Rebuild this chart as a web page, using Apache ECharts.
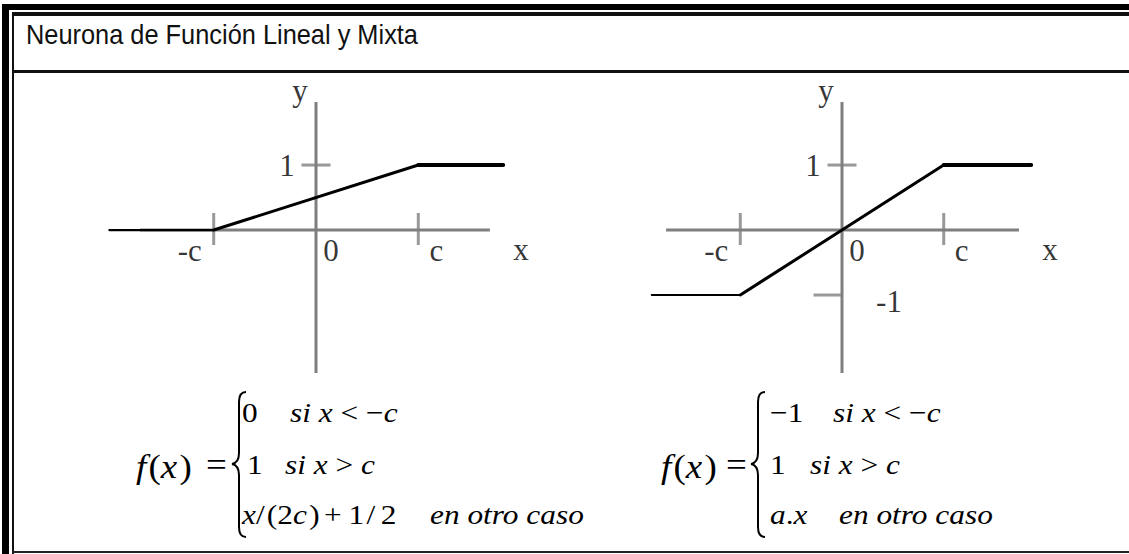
<!DOCTYPE html>
<html>
<head>
<meta charset="utf-8">
<title>Neurona de Función Lineal y Mixta</title>
<script src="https://cdn.jsdelivr.net/npm/echarts@6/dist/echarts.min.js"></script>
<style>
  html, body { margin: 0; padding: 0; background: #fff; }
  #chart { width: 1129px; height: 554px; }
</style>
</head>
<body>
<div id="chart"></div>
<script>
// Breakpoints of the two transfer functions (x measured in units of c)
const linealX = [-2.02, -1, 1, 1.83];
const linealY = [0, 0, 1, 1];
const mixtaX = [-1.87, -1, 1, 1.86];
const mixtaY = [-1, -1, 1, 1];

// Drawn extent of the coordinate axes
const linealAxisX = [-1.72, 1.70];
const mixtaAxisX = [-1.73, 1.74];
const axisY = [-2.2, 1.97];

// Tick marks drawn across the axes
const linealXTicks = [-1, 1];
const linealYTicks = [1];
const mixtaXTicks = [-1, 1];
const mixtaYTicks = [1, -1];

// Tick labels and the axis values they sit at
const linealLabelText = ['-c', '0', 'c', '1'];
const linealLabelX = [-1, 0, 1, 0];
const linealLabelY = [0, 0, 0, 1];
const mixtaLabelText = ['-c', '0', 'c', '1', '-1'];
const mixtaLabelX = [-1, 0, 1, 0, 0];
const mixtaLabelY = [0, 0, 0, 1, -1];
const axisNames = ['x', 'y'];

// Value window of each plotting area
const linealWindowX = [-2.1, 1.9];
const mixtaWindowX = [-1.95, 1.95];
const windowY = [-2.2, 1.97];

// ---- styles -------------------------------------------------------------
const AXIS_GRAY = '#7f7f7f';
const SERIF = '"Liberation Serif", "Times New Roman", serif';
const SANS = '"Liberation Sans", Arial, sans-serif';
const LABEL_SIZE = 31;
const segmentWidths = [2.2, 3, 4];
const labelOffsets = { '-c': [-24, 20], '0': [15, 20], 'c': [18, 20], '1': [-29, 0], '-1': [47, 6],
                       'x': [31, 19], 'y': [-16, -12] };
const yTickStyle = { '1': { size: [29, 3], offset: [0, 0] }, '-1': { size: [29, 3], offset: [-14, 0] } };

// pixel placement of each panel: origin column and pixels per unit of c
const panelFrames = [
  { originX: 316, unitX: 102.3 },
  { originX: 842, unitX: 101.7 }
];
const PLOT_TOP = 102, PLOT_HEIGHT = 271;

const panels = [
  { curveX: linealX, curveY: linealY, axisX: linealAxisX, xTicks: linealXTicks, yTicks: linealYTicks,
    labelText: linealLabelText, labelX: linealLabelX, labelY: linealLabelY, windowX: linealWindowX },
  { curveX: mixtaX, curveY: mixtaY, axisX: mixtaAxisX, xTicks: mixtaXTicks, yTicks: mixtaYTicks,
    labelText: mixtaLabelText, labelX: mixtaLabelX, labelY: mixtaLabelY, windowX: mixtaWindowX }
];

const grids = [], xAxes = [], yAxes = [], series = [];

panels.forEach((p, i) => {
  const f = panelFrames[i];
  grids.push({
    left: f.originX + p.windowX[0] * f.unitX,
    width: (p.windowX[1] - p.windowX[0]) * f.unitX,
    top: PLOT_TOP, height: PLOT_HEIGHT
  });
  const hidden = { type: 'value', gridIndex: i, axisLine: { show: false }, axisTick: { show: false },
                   axisLabel: { show: false }, splitLine: { show: false } };
  xAxes.push(Object.assign({ min: p.windowX[0], max: p.windowX[1] }, hidden));
  yAxes.push(Object.assign({ min: windowY[0], max: windowY[1] }, hidden));

  const base = { xAxisIndex: i, yAxisIndex: i, silent: true };

  // the two coordinate axes
  series.push(Object.assign({}, base, {
    type: 'line', z: 2, showSymbol: false,
    data: [[p.axisX[0], 0], [p.axisX[1], 0]],
    lineStyle: { color: AXIS_GRAY, width: 3, cap: 'butt' }
  }));
  series.push(Object.assign({}, base, {
    type: 'line', z: 2, showSymbol: false,
    data: [[0, axisY[0]], [0, axisY[1]]],
    lineStyle: { color: AXIS_GRAY, width: 3, cap: 'butt' }
  }));

  // tick marks crossing the axes
  const tickData = p.xTicks.map(v => ({ value: [v, 0], symbolSize: [3, 32], symbolOffset: [0, -1] }))
    .concat(p.yTicks.map(v => ({ value: [0, v], symbolSize: yTickStyle[String(v)].size,
                                  symbolOffset: yTickStyle[String(v)].offset })));
  series.push(Object.assign({}, base, {
    type: 'scatter', symbol: 'rect', z: 3, itemStyle: { color: AXIS_GRAY }, data: tickData
  }));

  // the piecewise function, one series per linear piece
  for (let k = 0; k < p.curveX.length - 1; k++) {
    series.push(Object.assign({}, base, {
      type: 'line', z: 4, showSymbol: false,
      data: [[p.curveX[k], p.curveY[k]], [p.curveX[k + 1], p.curveY[k + 1]]],
      lineStyle: { color: '#000', width: segmentWidths[k], cap: 'round' }
    }));
  }

  // tick labels and axis names
  const labelData = p.labelText.map((t, k) => ({ name: t, value: [p.labelX[k], p.labelY[k]] }))
    .concat([{ name: axisNames[0], value: [p.axisX[1], 0] }, { name: axisNames[1], value: [0, axisY[1]] }])
    .map(d => Object.assign(d, { label: { offset: labelOffsets[d.name] } }));
  series.push(Object.assign({}, base, {
    type: 'scatter', symbolSize: 0, z: 5, data: labelData,
    label: { show: true, position: 'inside', formatter: '{b}',
             fontFamily: SERIF, fontSize: LABEL_SIZE, color: '#000' }
  }));
});

// ---- frame, title and formulas ------------------------------------------
const FORMULA_SIZE = 28, FUNC_SIZE = 33, STRETCH = 1.12;
const pad = (left) => ({ fontFamily: SERIF, fontSize: FORMULA_SIZE, fill: '#000', padding: [0, 0, 0, left] });
const rich = {
  i: { fontFamily: SERIF, fontStyle: 'italic', fontSize: FORMULA_SIZE, fill: '#000' },
  r: { fontFamily: SERIF, fontSize: FORMULA_SIZE, fill: '#000' },
  fi: { fontFamily: SERIF, fontStyle: 'italic', fontSize: FUNC_SIZE, fill: '#000' },
  fr: { fontFamily: SERIF, fontSize: FUNC_SIZE, fill: '#000' },
  fp: { fontFamily: SERIF, fontSize: FUNC_SIZE, fill: '#000', padding: [0, 0, 0, 2] },
  g2: pad(2),
  g4: pad(4),
  g5: pad(5),
  g6: pad(6)
};
function formulaText(x, y, text) {
  return {
    type: 'text', x: x, y: y, z: 10, scaleX: STRETCH,
    style: { text: text, rich: rich, fill: '#000', font: FORMULA_SIZE + 'px ' + SERIF,
             align: 'left', verticalAlign: 'middle', textAlign: 'left', textVerticalAlign: 'middle' }
  };
}
// curly brace spanning the three cases, tip at x0
function brace(x0) {
  const st = { stroke: '#000', lineWidth: 2, fill: 'none' };
  const s = x0 + 7, e = x0 + 14;
  const bz = (x1, y1, cx1, cy1, cx2, cy2, x2, y2) => ({
    type: 'bezierCurve', z: 10, style: st,
    shape: { x1: x1, y1: y1, cpx1: cx1, cpy1: cy1, cpx2: cx2, cpy2: cy2, x2: x2, y2: y2 }
  });
  const ln = (y1, y2) => ({ type: 'line', z: 10, style: st, shape: { x1: s, y1: y1, x2: s, y2: y2 } });
  return [
    bz(e, 392, x0 + 9, 392, s, 395, s, 402),
    ln(402, 453),
    bz(s, 453, s, 460, x0 + 5, 463, x0, 464),
    bz(x0, 464, x0 + 5, 465, s, 468, s, 475),
    ln(475, 527),
    bz(s, 527, s, 534, x0 + 9, 537, e, 537)
  ];
}
function rect(x, y, w, h, color) {
  return { type: 'rect', shape: { x: x, y: y, width: w, height: h }, style: { fill: color }, z: 1 };
}

const graphic = [
  // frame
  rect(2, 4, 1127, 6, '#000'),
  rect(2, 4, 7, 550, '#000'),
  rect(12, 12, 1117, 4, '#111'),
  rect(12, 12, 2, 542, '#111'),
  rect(12, 70, 1117, 3, '#111'),
  rect(12, 551, 1117, 2, '#222'),
  // title
  { type: 'text', x: 26, y: 35, z: 10, scaleX: 0.94,
    style: { text: 'Neurona de Función Lineal y Mixta', font: '27px ' + SANS, fill: '#111',
             align: 'left', verticalAlign: 'middle', textAlign: 'left', textVerticalAlign: 'middle' } },

  // left formula
  formulaText(136, 467, '{fi|f}{fp|(}{fi|x}{fp|)}'),
  formulaText(206, 465, '{fr|=}'),
  ...brace(232),
  formulaText(242, 413, '{r|0}'),
  formulaText(290, 413, '{i|si x} {r|< −}{i|c}'),
  formulaText(247, 465, '{r|1}'),
  formulaText(285, 465, '{i|si x} {r|>} {i|c}'),
  formulaText(242, 515, '{i|x}{r|/}{g2|(}{r|2}{i|c}{g2|)}{g4|+}{g6|1}{g2|/}{g5|2}'),
  formulaText(430, 515, '{i|en otro caso}'),

  // right formula
  formulaText(661, 467, '{fi|f}{fp|(}{fi|x}{fp|)}'),
  formulaText(726, 465, '{fr|=}'),
  ...brace(751),
  formulaText(770, 413, '{r|−1}'),
  formulaText(833, 413, '{i|si x} {r|< −}{i|c}'),
  formulaText(770, 465, '{r|1}'),
  formulaText(810, 465, '{i|si x} {r|>} {i|c}'),
  formulaText(770, 515, '{i|a}{r|.}{i|x}'),
  formulaText(839, 515, '{i|en otro caso}')
];

const chart = echarts.init(document.getElementById('chart'), null, { renderer: 'svg' });
chart.setOption({
  animation: false,
  backgroundColor: '#fff',
  grid: grids,
  xAxis: xAxes,
  yAxis: yAxes,
  series: series,
  graphic: graphic
});
</script>
</body>
</html>
